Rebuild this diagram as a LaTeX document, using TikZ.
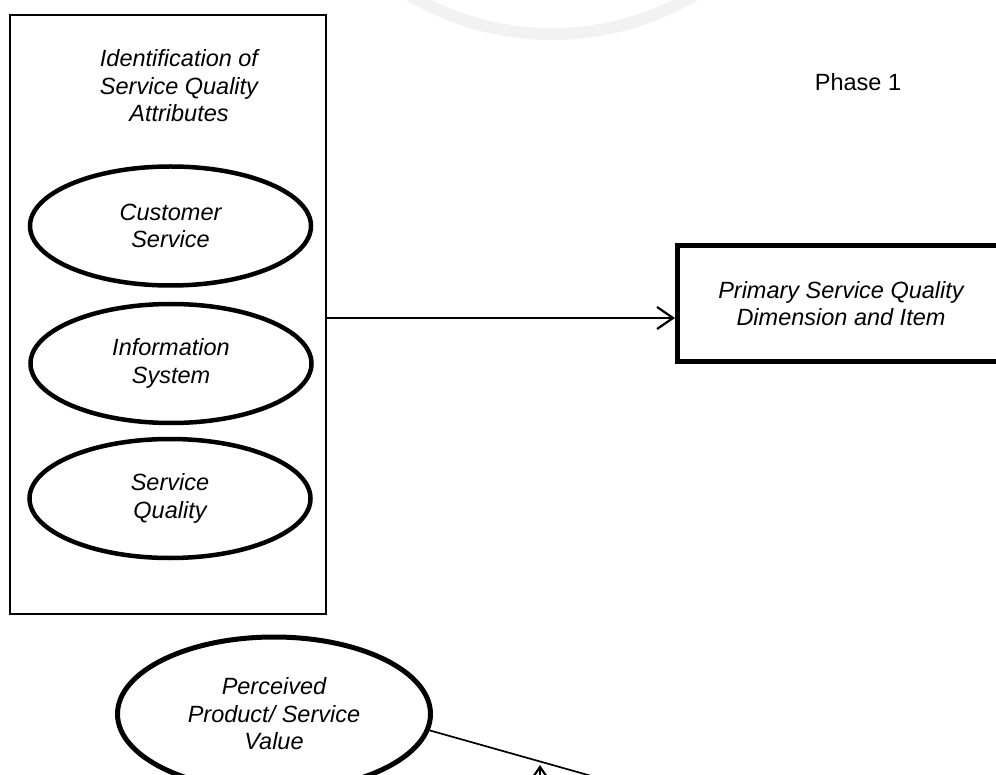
\documentclass[tikz,border=0pt]{standalone}
\usepackage{fontspec}
\setmainfont{Liberation Sans}
\usetikzlibrary{shapes.geometric,arrows.meta,calc}
\begin{document}
\begin{tikzpicture}[x=1pt,y=-1pt,
  txt/.style={font=\fontsize{23.5}{27.5}\selectfont},
  lbl/.style={txt, font=\fontsize{23.5}{27.5}\selectfont\itshape, align=center},
  attr/.style={ellipse, draw, line width=4.5pt, minimum width=281pt,
    minimum height=119pt, inner sep=0pt, lbl},
  conn/.style={line width=1.7pt},
  arr/.style={conn, -{Straight Barb[length=16pt,width=22pt,line width=2.2pt]}}
]
\useasboundingbox (0,0) rectangle (996,775);

% faint ring in the background
\draw[gray!10, line width=12pt] (552,-246) circle[radius=280];

% grouping frame with its attributes
\node[draw, line width=1.7pt, minimum width=316pt, minimum height=599pt,
  inner sep=0pt] (frame) at (168,314.5) {};
\node[lbl] (title) at (179,86) {Identification of\\Service Quality\\Attributes};
\node[attr] (cs) at (170.5,226) {Customer\\Service};
\node[attr] (is) at (171,363.5) {Information\\System};
\node[attr] (sq) at (170,498.5) {Service\\Quality};

% phase label and outcome box
\node[txt] (phase) at (858,82) {Phase 1};
\node[draw, line width=5pt, minimum width=327pt, minimum height=116pt,
  inner sep=0pt, lbl] (prim) at (841,303.5)
  {Primary Service Quality\\Dimension and Item};

\draw[arr] ([yshift=-3.5pt]frame.east) -- ([yshift=-14.5pt]prim.west);

% perceived value construct
\node[ellipse, draw, line width=5pt, minimum width=313pt, minimum height=154pt,
  inner sep=0pt, lbl] (perc) at (274,714)
  {Perceived\\Product/ Service\\Value};

\coordinate (offA) at (700,806.6);
\coordinate (offB) at (540,812);
\coordinate (tipB) at (540,765);
\draw[conn] (perc.-6) -- (offA);
\draw[arr] (offB) -- (tipB);
\end{tikzpicture}
\end{document}
